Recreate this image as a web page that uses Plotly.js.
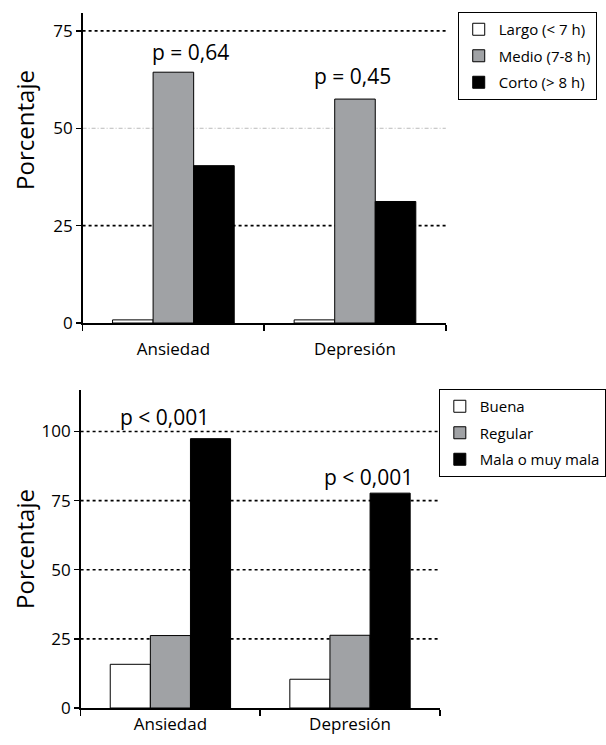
<!DOCTYPE html>
<html>
<head>
<meta charset="utf-8">
<script src="https://cdn.plot.ly/plotly-3.0.1.min.js"></script>
<style>html,body{margin:0;padding:0;background:#fff;}</style>
</head>
<body>
<div id="chart" style="width:606px;height:745px;"></div>
<script>
// ---- Data ----
const categories = ["Ansiedad", "Depresión"];

// Top chart: duración del sueño
const sleepNames = ["Largo (< 7 h)", "Medio (7-8 h)", "Corto (> 8 h)"];
const largoVals = [0.8, 0.8];
const medioVals = [64.4, 57.5];
const cortoVals = [40.4, 31.2];
const topPValues = ["p = 0,64", "p = 0,45"];
const topTicks = [0, 25, 50, 75];

// Bottom chart: calidad del sueño
const qualityNames = ["Buena", "Regular", "Mala o muy mala"];
const buenaVals = [15.8, 10.4];
const regularVals = [26.2, 26.3];
const malaVals = [97.4, 77.7];
const bottomPValues = ["p < 0,001", "p < 0,001"];
const bottomTicks = [0, 25, 50, 75, 100];

// ---- Styles ----
const FONT = "Open Sans, sans-serif";
const fills = ["#ffffff", "#a0a2a5", "#000000"];
const W = 606, H = 745;

function bar(name, vals, color, xa, ya, leg, grp) {
  return {
    type: "bar", name: name, x: categories, y: vals,
    xaxis: xa, yaxis: ya, legend: leg, legendgroup: grp,
    marker: {color: color, line: {color: "#000", width: 1}},
    hoverinfo: "y"
  };
}

const data = [
  bar(sleepNames[0], largoVals, fills[0], "x", "y", "legend", "a1"),
  bar(sleepNames[1], medioVals, fills[1], "x", "y", "legend", "a2"),
  bar(sleepNames[2], cortoVals, fills[2], "x", "y", "legend", "a3"),
  bar(qualityNames[0], buenaVals, fills[0], "x2", "y2", "legend2", "b1"),
  bar(qualityNames[1], regularVals, fills[1], "x2", "y2", "legend2", "b2"),
  bar(qualityNames[2], malaVals, fills[2], "x2", "y2", "legend2", "b3")
];

function gridShape(xref, yref, val, style) {
  return {
    type: "line", xref: xref + " domain", yref: yref,
    x0: 0, x1: 1, y0: val, y1: val, layer: "below",
    line: style
  };
}
const dotBlack = {color: "#000", width: 1.6, dash: "dot"};
const dashGray = {color: "#a8a8a8", width: 0.8, dash: "4px,2px,1px,2px"};

const shapes = [
  gridShape("x", "y", 25, dotBlack),
  gridShape("x", "y", 50, dashGray),
  gridShape("x", "y", 75, dotBlack),
  gridShape("x2", "y2", 25, dotBlack),
  gridShape("x2", "y2", 50, dotBlack),
  gridShape("x2", "y2", 75, dotBlack),
  gridShape("x2", "y2", 100, dotBlack)
];

function pLabel(text, xa, ya, cat, yv, shift) {
  return {
    text: text, xref: xa, yref: ya, x: cat, y: yv, xshift: shift,
    showarrow: false, font: {family: FONT, size: 21, color: "#000"},
    xanchor: "center", yanchor: "middle"
  };
}

const annotations = [
  pLabel(topPValues[0], "x", "y", categories[0], 69.6, 17),
  pLabel(topPValues[1], "x", "y", categories[1], 63.4, -2),
  pLabel(bottomPValues[0], "x2", "y2", categories[0], 105.3, -6),
  pLabel(bottomPValues[1], "x2", "y2", categories[1], 83.6, 18),
  {text: "Porcentaje", textangle: -90, xref: "paper", yref: "paper",
   x: 25 / W, y: 1 - 130 / H, showarrow: false, xanchor: "center", yanchor: "middle",
   font: {family: FONT, size: 24, color: "#000"}},
  {text: "Porcentaje", textangle: -90, xref: "paper", yref: "paper",
   x: 24 / W, y: 1 - 549 / H, showarrow: false, xanchor: "center", yanchor: "middle",
   font: {family: FONT, size: 24, color: "#000"}}
];

const xBase = {
  type: "category", showline: true, linecolor: "#000", linewidth: 1.5,
  ticks: "outside", tickson: "boundaries", ticklen: 6, tickwidth: 1.5, tickcolor: "#000",
  showgrid: false, zeroline: false, range: [-0.5, 1.5], fixedrange: true,
  tickfont: {family: FONT, size: 17, color: "#000"}
};
const yBase = {
  showline: true, linecolor: "#000", linewidth: 1.5,
  ticks: "outside", ticklen: 5, tickwidth: 1.5, tickcolor: "#000",
  showgrid: false, zeroline: false, fixedrange: true,
  tickfont: {family: FONT, size: 17, color: "#000"}
};

const legBase = {
  xanchor: "left", yanchor: "top", bgcolor: "#fff",
  bordercolor: "#000", borderwidth: 1,
  traceorder: "grouped", tracegroupgap: 4,
  font: {family: FONT, size: 15, color: "#000"},
  itemclick: false, itemdoubleclick: false
};

const layout = {
  width: W, height: H,
  margin: {l: 0, r: 0, t: 0, b: 0},
  paper_bgcolor: "#fff", plot_bgcolor: "#fff",
  barmode: "group", bargap: 0.33, bargroupgap: 0,
  showlegend: true,
  xaxis: Object.assign({}, xBase, {domain: [83 / W, 448 / W], anchor: "y", ticklabelstandoff: 10}),
  yaxis: Object.assign({}, yBase, {domain: [1 - 323 / H, 1 - 13 / H], anchor: "x",
    range: [0, 79.6], tickvals: topTicks, ticktext: topTicks.map(String)}),
  xaxis2: Object.assign({}, xBase, {domain: [81 / W, 442 / W], anchor: "y2", ticklabelstandoff: 0}),
  yaxis2: Object.assign({}, yBase, {domain: [1 - 708 / H, 1 - 390 / H], anchor: "x2",
    range: [0, 115], tickvals: bottomTicks, ticktext: bottomTicks.map(String)}),
  legend: Object.assign({}, legBase, {x: 460 / W, y: 1 - 12 / H}),
  legend2: Object.assign({}, legBase, {x: 441 / W, y: 1 - 389 / H}),
  shapes: shapes,
  annotations: annotations
};

Plotly.newPlot("chart", data, layout, {displayModeBar: false, staticPlot: true});
</script>
</body>
</html>
